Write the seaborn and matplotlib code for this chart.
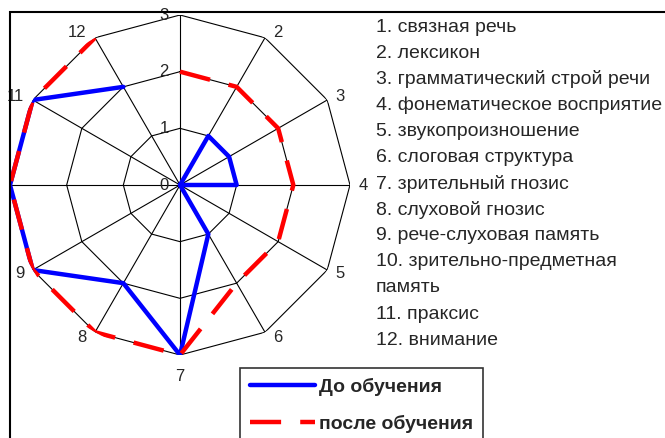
import numpy as np
import pandas as pd
import seaborn as sns
import matplotlib.pyplot as plt
from matplotlib.lines import Line2D
from matplotlib.patches import Rectangle


categories = list(range(1, 12 + 1))
shown_labels = ["", "2", "3", "4", "5", "6", "7", "8", "9", "", "11", "12"]
before = [0, 1, 1, 1, 0, 1, 3, 2, 3, 3, 3, 2]
after = [2, 2, 2, 2, 2, 2, 3, 3, 3, 3, 3, 3]
rings = [1, 2, 3]
ring_labels = ["0", "1", "2", "3"]
series_names = ["До обучения", "после обучения"]
legend_lines = [
    "1. связная речь",
    "2. лексикон",
    "3. грамматический строй речи",
    "4. фонематическое восприятие",
    "5. звукопроизношение",
    "6. слоговая структура",
    "7. зрительный гнозис",
    "8. слуховой гнозис",
    "9. рече-слуховая память",
    "10. зрительно-предметная",
    "память",
    "11. праксис",
    "12. внимание",
]

sns.set_style("white")
plt.rcParams['font.family'] = ['Liberation Sans', 'DejaVu Sans']

n = len(categories)
theta = np.arange(n) * 2 * np.pi / n
theta_closed = np.append(theta, theta[0])

df = pd.DataFrame({
    "theta": np.concatenate([theta_closed, theta_closed]),
    "value": before + [before[0]] + after + [after[0]],
    "series": [series_names[0]] * (n + 1) + [series_names[1]] * (n + 1),
})

red_dash = (0, (7, 4.3))

fig = plt.figure(figsize=(6.65, 4.38), dpi=100)
ax = fig.add_axes([10 / 665, (438 - 185 - 170) / 438, 340 / 665, 340 / 438],
                  projection="polar")
ax.set_theta_offset(np.pi / 2)
ax.set_theta_direction(-1)
ax.set_ylim(0, 3)
ax.grid(False)
ax.spines["polar"].set_visible(False)
ax.set_xticks([])
ax.set_yticks([])
ax.set_facecolor("none")

# polygon grid and spokes
for r in rings:
    ax.plot(theta_closed, [r] * (n + 1), color="black", lw=0.8, zorder=1)
for t in theta:
    ax.plot([t, t], [0, rings[-1]], color="black", lw=0.8, zorder=1)

# series
sns.lineplot(data=df[df.series == series_names[1]], x="theta", y="value",
             sort=False, ax=ax, color="#ff0000", lw=3.2, zorder=3,
             legend=False)
ax.lines[-1].set_linestyle(red_dash)
sns.lineplot(data=df[df.series == series_names[0]], x="theta", y="value",
             sort=False, ax=ax, color="#0000ff", lw=3.2, zorder=2,
             legend=False)
ax.set_xlabel("")
ax.set_ylabel("")

# radial labels
for i, lab in enumerate(ring_labels):
    ax.annotate(lab, xy=(0, i), xytext=(-8, 0), textcoords="offset points",
                ha="right", va="center", fontsize=12, zorder=5)

# category labels, placed beside each vertex
for t, lab in zip(theta, shown_labels):
    s, c = np.sin(t), np.cos(t)
    if abs(s) < 0.1:
        ha, dx = "center", 0
    else:
        ha, dx = ("left", 6) if s > 0 else ("right", -6)
    dy = 4.5 * c
    va = "center"
    if c < -0.99:
        va, dy = "top", -10
    ax.annotate(lab, xy=(t, 3), xytext=(dx, dy), textcoords="offset points",
                ha=ha, va=va, fontsize=12, annotation_clip=False)

# category list on the right
for i, line in enumerate(legend_lines):
    fig.text(376 / 665, 1 - (27 + i * 26.1) / 438, line, fontsize=14,
             ha="left", va="center")

handles = [
    Line2D([], [], color="#0000ff", lw=3.2),
    Line2D([], [], color="#ff0000", lw=3.2, linestyle=red_dash),
]
leg = fig.legend(handles, series_names, loc="upper left",
                 bbox_to_anchor=(240 / 665, 1 - 368 / 438),
                 prop={"weight": "bold", "size": 14}, frameon=True,
                 fancybox=False, handlelength=3.35, handletextpad=0.2,
                 labelspacing=1.0, borderpad=0.5, borderaxespad=0)
leg.get_frame().set_edgecolor("black")
leg.get_frame().set_linewidth(1.2)

fig.patches.append(Rectangle((10 / 665, -0.2), 1.2, 1.2 - 12 / 438,
                             transform=fig.transFigure, fill=False,
                             edgecolor="black", lw=1.5))

fig.savefig("out.png", dpi=100)
